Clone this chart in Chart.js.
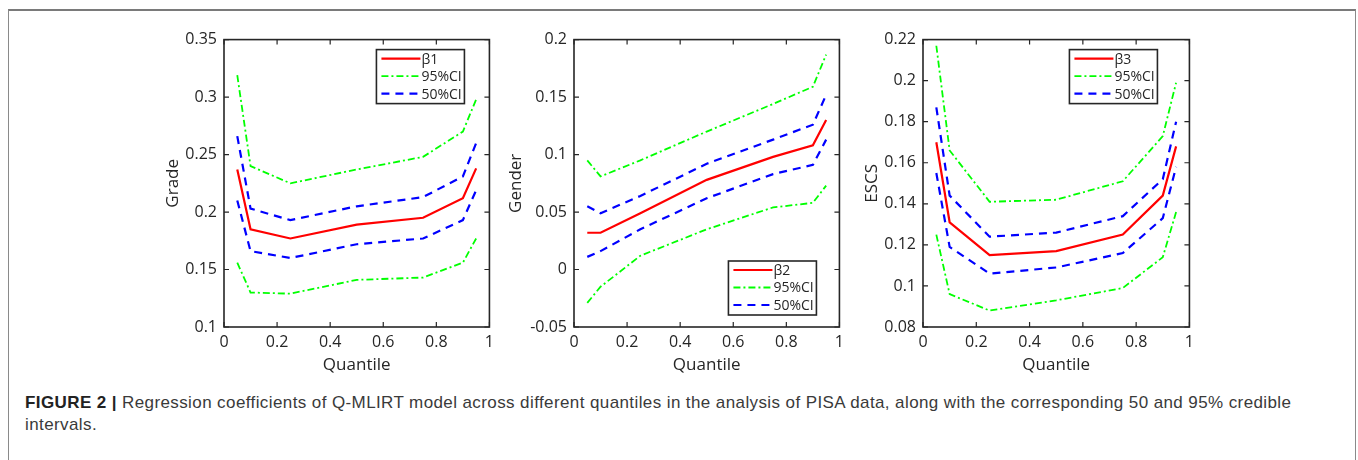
<!DOCTYPE html>
<html>
<head>
<meta charset="utf-8">
<script src="https://cdn.jsdelivr.net/npm/chart.js@4/dist/chart.umd.min.js"></script>
<style>
  body { margin: 0; background: #fff; width: 1358px; height: 460px; overflow: hidden; position: relative; }
  #frame { position: absolute; left: 8px; top: 9px; width: 1346px; height: 470px;
           border-top: 2px solid #7a7a7a; border-left: 1px solid #8a8a8a; border-right: 1px solid #8a8a8a; }
  .panel { position: absolute; top: 23px; height: 360px; }
  #caption { position: absolute; left: 25px; top: 392px; width: 1300px; font-family: "Liberation Sans", Arial, sans-serif;
             font-size: 17px; letter-spacing: 0.4px; line-height: 22px; color: #3a3a3a; }
  #caption b { color: #222; }
</style>
</head>
<body>
<div id="frame"></div>
<div class="panel" id="p1"><canvas id="c1"></canvas></div>
<div class="panel" id="p2"><canvas id="c2"></canvas></div>
<div class="panel" id="p3"><canvas id="c3"></canvas></div>
<div id="caption"><b>FIGURE 2 |</b> Regression coefficients of Q-MLIRT model across different quantiles in the analysis of PISA data, along with the corresponding 50 and 95% credible intervals.</div>

<script>
// quantiles where the coefficients were estimated
const quantiles = [0.05, 0.1, 0.25, 0.5, 0.75, 0.9, 0.95];

// Grade
const gradeBeta = [0.237, 0.185, 0.177, 0.189, 0.195, 0.212, 0.238];
const gradeUp95 = [0.319, 0.240, 0.225, 0.237, 0.248, 0.270, 0.298];
const gradeLo95 = [0.156, 0.130, 0.129, 0.141, 0.143, 0.156, 0.177];
const gradeUp50 = [0.266, 0.203, 0.193, 0.205, 0.213, 0.231, 0.260];
const gradeLo50 = [0.210, 0.166, 0.160, 0.172, 0.177, 0.193, 0.219];

// Gender
const genderBeta = [0.032, 0.032, 0.049, 0.078, 0.098, 0.108, 0.130];
const genderUp95 = [0.095, 0.081, 0.095, 0.120, 0.144, 0.159, 0.187];
const genderLo95 = [-0.029, -0.015, 0.012, 0.035, 0.054, 0.058, 0.073];
const genderUp50 = [0.055, 0.049, 0.064, 0.092, 0.113, 0.126, 0.152];
const genderLo50 = [0.011, 0.016, 0.035, 0.062, 0.083, 0.091, 0.113];

// ESCS
const escsBeta = [0.170, 0.131, 0.115, 0.117, 0.125, 0.144, 0.168];
const escsUp95 = [0.217, 0.166, 0.141, 0.142, 0.151, 0.173, 0.199];
const escsLo95 = [0.125, 0.096, 0.088, 0.093, 0.099, 0.114, 0.136];
const escsUp50 = [0.187, 0.144, 0.124, 0.126, 0.134, 0.152, 0.180];
const escsLo50 = [0.155, 0.119, 0.106, 0.109, 0.116, 0.133, 0.158];

// axis ranges / labels
const yRanges = [[0.1, 0.35, 0.05], [-0.05, 0.2, 0.05], [0.08, 0.22, 0.02]];
const yTitles = ["Grade", "Gender", "ESCS"];
const betaNames = ["\u03b21", "\u03b22", "\u03b23"];
const xTitle = "Quantile";

const INK = "#262626";
const AXIS_W = 72;

// layout of each panel (plot area in page pixels)
const layouts = [
  { left: 224, right: 490, titlePad: 11, legend: { corner: "top", dx: 25, dy: 10 } },
  { left: 574, right: 840, titlePad: 4,  legend: { corner: "bottom", dx: 23, dy: 12 } },
  { left: 923, right: 1190, titlePad: 11, legend: { corner: "top", dx: 32, dy: 10 } }
];

const pts = arr => quantiles.map((q, i) => ({ x: q, y: arr[i] }));

function makeSets(beta, up95, lo95, up50, lo50, name) {
  const solid = { borderColor: "#ff0000", borderWidth: 2.2, borderDash: [] };
  const dashdot = { borderColor: "#00ff00", borderWidth: 1.8, borderDash: [7, 3, 2, 3] };
  const dashed = { borderColor: "#0000ff", borderWidth: 2.2, borderDash: [8, 6] };
  return [
    { label: name, data: pts(beta), ...solid, legend: true },
    { label: "95%CI", data: pts(up95), ...dashdot, legend: true },
    { label: "95%CI", data: pts(lo95), ...dashdot },
    { label: "50%CI", data: pts(up50), ...dashed, legend: true },
    { label: "50%CI", data: pts(lo50), ...dashed }
  ];
}

const allSets = [
  makeSets(gradeBeta, gradeUp95, gradeLo95, gradeUp50, gradeLo50, betaNames[0]),
  makeSets(genderBeta, genderUp95, genderLo95, genderUp50, genderLo50, betaNames[1]),
  makeSets(escsBeta, escsUp95, escsLo95, escsUp50, escsLo50, betaNames[2])
];

// matlab-like box with inward ticks, then the legend box
const boxPlugin = {
  id: "matBox",
  afterDatasetsDraw(chart, args, opts) {
    const { ctx, chartArea: a, scales } = chart;
    ctx.save();
    ctx.strokeStyle = INK;
    ctx.lineWidth = 1.6;
    ctx.setLineDash([]);
    ctx.strokeRect(a.left, a.top, a.right - a.left, a.bottom - a.top);
    ctx.lineWidth = 1.2;
    const tl = 5;
    ctx.beginPath();
    scales.x.ticks.forEach(t => {
      const px = scales.x.getPixelForValue(t.value);
      ctx.moveTo(px, a.bottom); ctx.lineTo(px, a.bottom - tl);
      ctx.moveTo(px, a.top); ctx.lineTo(px, a.top + tl);
    });
    scales.y.ticks.forEach(t => {
      const py = scales.y.getPixelForValue(t.value);
      ctx.moveTo(a.left, py); ctx.lineTo(a.left + tl, py);
      ctx.moveTo(a.right, py); ctx.lineTo(a.right - tl, py);
    });
    ctx.stroke();

    // legend
    const lg = opts.legend;
    const bw = 88, bh = 54;
    const bx = a.right - lg.dx - bw;
    const by = lg.corner === "top" ? a.top + lg.dy : a.bottom - lg.dy - bh;
    ctx.fillStyle = "#fff";
    ctx.fillRect(bx, by, bw, bh);
    ctx.lineWidth = 1.6;
    ctx.strokeRect(bx, by, bw, bh);
    const items = chart.data.datasets.filter(d => d.legend);
    ctx.font = '14px "Open Sans"';
    ctx.textBaseline = "middle";
    items.forEach((d, i) => {
      const y = by + 9 + i * 17.5;
      ctx.beginPath();
      ctx.strokeStyle = d.borderColor;
      ctx.lineWidth = d.borderWidth;
      ctx.setLineDash(d.borderDash);
      ctx.moveTo(bx + 5, y); ctx.lineTo(bx + 44, y);
      ctx.stroke();
      ctx.setLineDash([]);
      ctx.fillStyle = INK;
      ctx.fillText(d.label, bx + 45, y + 1);
    });
    ctx.restore();
  }
};

layouts.forEach((lay, k) => {
  const wrap = document.getElementById("p" + (k + 1));
  const w = lay.right - lay.left + AXIS_W + 10;
  wrap.style.left = (lay.left - AXIS_W) + "px";
  wrap.style.width = w + "px";
  const [ymin, ymax, ystep] = yRanges[k];

  new Chart(document.getElementById("c" + (k + 1)), {
    type: "line",
    data: { datasets: allSets[k] },
    options: {
      responsive: true,
      maintainAspectRatio: false,
      animation: false,
      layout: { padding: { top: 10, right: 10, left: 0, bottom: 0 } },
      elements: { point: { radius: 0 }, line: { tension: 0 } },
      plugins: {
        legend: { display: false },
        tooltip: { enabled: false },
        matBox: { legend: lay.legend }
      },
      scales: {
        x: {
          type: "linear", min: 0, max: 1,
          grid: { display: false, drawTicks: false },
          border: { display: false },
          ticks: { stepSize: 0.2, padding: 6, color: INK, font: { family: "Open Sans", size: 16 },
                   callback: v => String(+v.toFixed(2)) },
          title: { display: true, text: xTitle, color: INK, font: { family: "Open Sans", size: 17 },
                   padding: { top: 0, bottom: 8 } },
          afterFit: s => { s.height = 56; }
        },
        y: {
          type: "linear", min: ymin, max: ymax,
          grid: { display: false, drawTicks: false },
          border: { display: false },
          ticks: { stepSize: ystep, padding: 7, color: INK, font: { family: "Open Sans", size: 16 },
                   callback: v => String(+v.toFixed(2)) },
          title: { display: true, text: yTitles[k], color: INK, font: { family: "Open Sans", size: 17 },
                   padding: { top: lay.titlePad, bottom: 0 } },
          afterFit: s => { s.width = AXIS_W; }
        }
      }
    },
    plugins: [boxPlugin]
  });
});
</script>
</body>
</html>
